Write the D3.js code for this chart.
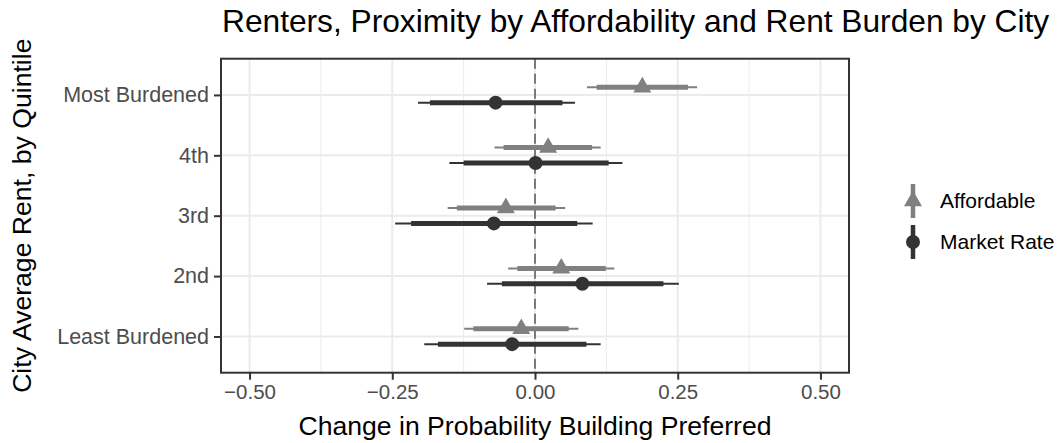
<!DOCTYPE html>
<html>
<head>
<meta charset="utf-8">
<script src="https://cdn.jsdelivr.net/npm/d3@7"></script>
<style>
  body { margin: 0; background: #fff; }
  text { font-family: "Liberation Sans", Arial, sans-serif; }
</style>
</head>
<body>
<svg width="1064" height="443"></svg>
<script>
// quintiles, top to bottom
var categories = ["Most Burdened", "4th", "3rd", "2nd", "Least Burdened"];
var seriesNames = ["Affordable", "Market Rate"];
var xTicks = [-0.5, -0.25, 0, 0.25, 0.5];
var xMinor = [-0.375, -0.125, 0.125, 0.375];

// point estimates and intervals (inner = thick, outer = thin)
var affEst   = [0.188, 0.023, -0.051, 0.046, -0.024];
var affLoIn  = [0.108, -0.055, -0.137, -0.031, -0.108];
var affHiIn  = [0.268, 0.100, 0.036, 0.124, 0.059];
var affLoOut = [0.091, -0.071, -0.153, -0.047, -0.124];
var affHiOut = [0.284, 0.115, 0.053, 0.139, 0.076];

var mktEst   = [-0.069, 0.001, -0.072, 0.083, -0.040];
var mktLoIn  = [-0.184, -0.125, -0.217, -0.058, -0.170];
var mktHiIn  = [0.048, 0.129, 0.074, 0.225, 0.090];
var mktLoOut = [-0.205, -0.150, -0.245, -0.084, -0.194];
var mktHiOut = [0.070, 0.153, 0.101, 0.252, 0.115];

var colors = { "Affordable": "#808080", "Market Rate": "#333333" };

var rows = [];
categories.forEach(function (c, i) {
  rows.push({ cat: c, series: "Affordable", est: affEst[i], loIn: affLoIn[i], hiIn: affHiIn[i], loOut: affLoOut[i], hiOut: affHiOut[i] });
  rows.push({ cat: c, series: "Market Rate", est: mktEst[i], loIn: mktLoIn[i], hiIn: mktHiIn[i], loOut: mktLoOut[i], hiOut: mktHiOut[i] });
});

var svg = d3.select("svg");
var pLeft = 221, pRight = 849, pTop = 58.7, pBottom = 372.7;

var x = d3.scaleLinear().domain([-0.55, 0.55]).range([pLeft, pRight]);
var y = d3.scalePoint().domain(categories).range([pTop, pBottom]).padding(0.6);
var dodge = d3.scalePoint().domain(seriesNames).range([-7.7, 7.7]);

function shape(s) {
  return s == "Affordable" ? d3.symbol(d3.symbolTriangle, 140)() : d3.symbol(d3.symbolCircle, 154)();
}

// panel grid
var grid = svg.append("g");
grid.selectAll(".minor").data(xMinor).enter().append("line")
  .attr("x1", d => x(d)).attr("x2", d => x(d)).attr("y1", pTop).attr("y2", pBottom)
  .attr("stroke", "#ebebeb").attr("stroke-width", 1);
grid.selectAll(".majx").data(xTicks).enter().append("line")
  .attr("x1", d => x(d)).attr("x2", d => x(d)).attr("y1", pTop).attr("y2", pBottom)
  .attr("stroke", "#ebebeb").attr("stroke-width", 2);
grid.selectAll(".majy").data(categories).enter().append("line")
  .attr("x1", pLeft).attr("x2", pRight).attr("y1", d => y(d)).attr("y2", d => y(d))
  .attr("stroke", "#ebebeb").attr("stroke-width", 2);

// reference line at zero
svg.append("line")
  .attr("x1", x(0)).attr("x2", x(0)).attr("y1", pTop).attr("y2", pBottom)
  .attr("stroke", "#7a7a7a").attr("stroke-width", 2).attr("stroke-dasharray", "10,5");

// intervals and points
var g = svg.append("g").selectAll("g").data(rows).enter().append("g")
  .attr("transform", d => "translate(0," + (y(d.cat) + dodge(d.series)) + ")");
g.append("line")
  .attr("x1", d => x(d.loOut)).attr("x2", d => x(d.hiOut))
  .attr("stroke", d => colors[d.series]).attr("stroke-width", 2);
g.append("line")
  .attr("x1", d => x(d.loIn)).attr("x2", d => x(d.hiIn))
  .attr("stroke", d => colors[d.series]).attr("stroke-width", 5);
g.append("path")
  .attr("transform", d => "translate(" + x(d.est) + ",0)")
  .attr("d", d => shape(d.series))
  .attr("fill", d => colors[d.series]);

// panel border
svg.append("rect").attr("x", pLeft).attr("y", pTop).attr("width", pRight - pLeft).attr("height", pBottom - pTop)
  .attr("fill", "none").attr("stroke", "#333333").attr("stroke-width", 2);

// axes
var xAxis = svg.append("g").attr("transform", "translate(0," + pBottom + ")")
  .call(d3.axisBottom(x).tickValues(xTicks).tickSize(7).tickSizeOuter(0).tickPadding(5)
    .tickFormat(d => d3.format(".2f")(d).replace("-", "\u2212")));
var yAxis = svg.append("g").attr("transform", "translate(" + pLeft + ",0)")
  .call(d3.axisLeft(y).tickSize(7).tickSizeOuter(0).tickPadding(5));
[xAxis, yAxis].forEach(function (a) {
  a.select(".domain").remove();
  a.selectAll(".tick line").attr("stroke", "#333333").attr("stroke-width", 2);
  a.selectAll(".tick text").attr("fill", "#4d4d4d");
});
xAxis.selectAll(".tick text").style("font-size", "20.5px");
yAxis.selectAll(".tick text").style("font-size", "21.5px");

// titles
svg.append("text").attr("x", 222).attr("y", 32).style("font-size", "31.7px").attr("fill", "#000")
  .text("Renters, Proximity by Affordability and Rent Burden by City");
svg.append("text").attr("x", (pLeft + pRight) / 2).attr("y", 435).attr("text-anchor", "middle")
  .style("font-size", "26.6px").attr("fill", "#000").text("Change in Probability Building Preferred");
svg.append("text").attr("transform", "translate(31," + (pTop + pBottom) / 2 + ") rotate(-90)")
  .attr("text-anchor", "middle").style("font-size", "26.6px").attr("fill", "#000")
  .text("City Average Rent, by Quintile");

// legend
var legY = d3.scalePoint().domain(seriesNames).range([201, 242]);
var leg = svg.append("g").selectAll("g").data(seriesNames).enter().append("g")
  .attr("transform", d => "translate(913," + legY(d) + ")");
leg.append("line").attr("y1", -17).attr("y2", 17)
  .attr("stroke", d => colors[d]).attr("stroke-width", 4.5);
leg.append("path").attr("d", d => shape(d)).attr("fill", d => colors[d]);
leg.append("text").attr("x", 27).attr("dy", "0.35em").style("font-size", "21px").attr("fill", "#000")
  .text(d => d);
</script>
</body>
</html>
